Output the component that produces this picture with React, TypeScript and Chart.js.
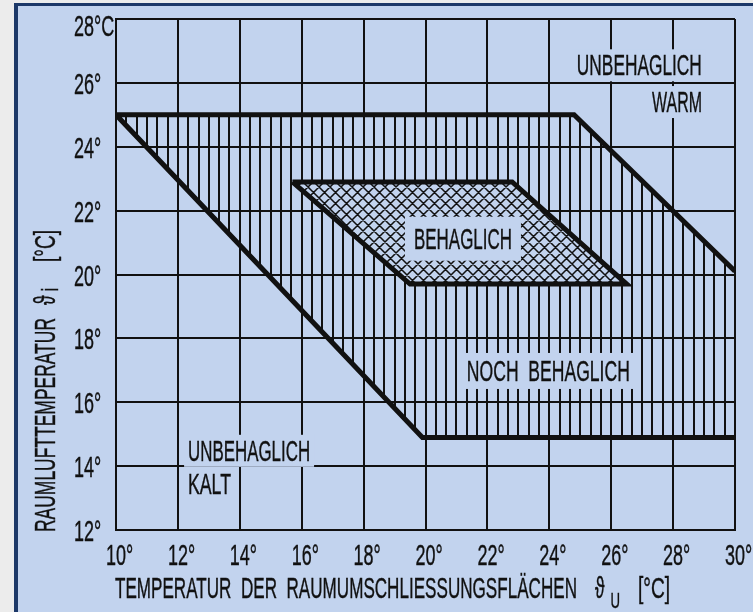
import React, { useEffect, useRef } from "react";
import { Chart, registerables } from "chart.js";
Chart.register(...registerables);

// ---------- data ----------
const X_TICKS = [10, 12, 14, 16, 18, 20, 22, 24, 26, 28, 30];
const X_TICK_LABELS = ["10°", "12°", "14°", "16°", "18°", "20°", "22°", "24°", "26°", "28°", "30°"];
const Y_TICKS = [12, 14, 16, 18, 20, 22, 24, 26, 28];
const Y_TICK_LABELS = ["12°", "14°", "16°", "18°", "20°", "22°", "24°", "26°", "28°C"];

// boundary of the "noch behaglich" zone (open polyline, drawn thick)
const OUTER_X = [30, 24.8, 10, 19.9, 30];
const OUTER_Y = [20.1, 25, 25, 14.9, 14.9];
// closed hatched area of the "noch behaglich" zone
const ZONE_X = [10, 24.8, 30, 30, 19.9];
const ZONE_Y = [25, 25, 20.1, 14.9, 14.9];
// "behaglich" zone (closed)
const INNER_X = [15.7, 22.8, 26.5, 19.5, 15.7];
const INNER_Y = [22.9, 22.9, 19.7, 19.7, 22.9];

const LABELS = ["UNBEHAGLICH", "WARM", "NOCH  BEHAGLICH", "BEHAGLICH", "UNBEHAGLICH", "KALT"];
const LABEL_X = [26.91, 28.13, 23.97, 21.21, 14.3, 13.02];
const LABEL_Y = [26.55, 25.4, 16.98, 21.12, 14.48, 13.43];

const X_TITLE = "TEMPERATUR  DER  RAUMUMSCHLIESSUNGSFLÄCHEN";
const Y_TITLE = "RAUMLUFTTEMPERATUR";

// ---------- styles ----------
const PAGE = "rgb(236,236,236)";
const NAVY = "rgb(28,56,104)";
const BG = "rgb(194,211,238)";
const INK = "#111";
const FAMILY = '"Liberation Sans", Arial, "DejaVu Sans", sans-serif';
const LABEL_STYLE = [
  { w: 125, px: 4, py: 5 },
  { w: 50, px: 4, py: 5 },
  { w: 163, px: 5, py: 7 },
  { w: 98, px: 9, py: 11 },
  { w: 122, px: 4, py: 5 },
  { w: 43, px: 4, py: 5 },
];

function drawText(ctx: CanvasRenderingContext2D, s: string, x: number, y: number, size: number, sx: number, align: CanvasTextAlign = "left") {
  ctx.save();
  ctx.font = `${size}px ${FAMILY}`;
  ctx.textAlign = align;
  ctx.textBaseline = "alphabetic";
  ctx.fillStyle = INK;
  ctx.strokeStyle = INK;
  ctx.lineWidth = 0.4;
  ctx.translate(x, y);
  ctx.scale(sx, 1);
  ctx.fillText(s, 0, 0);
  ctx.strokeText(s, 0, 0);
  ctx.restore();
}
function textW(ctx: CanvasRenderingContext2D, s: string, size: number) {
  ctx.save();
  ctx.font = `${size}px ${FAMILY}`;
  const w = ctx.measureText(s).width;
  ctx.restore();
  return w;
}

function polyPath(ctx: CanvasRenderingContext2D, xs: any, ys: any, X: number[], Y: number[]) {
  ctx.beginPath();
  X.forEach((x, i) => {
    const px = xs.getPixelForValue(x);
    const py = ys.getPixelForValue(Y[i]);
    if (i === 0) ctx.moveTo(px, py);
    else ctx.lineTo(px, py);
  });
  ctx.closePath();
}

const decorPlugin = {
  id: "decor",
  beforeDraw(chart: any) {
    const ctx = chart.ctx as CanvasRenderingContext2D;
    const W = chart.width, H = chart.height;
    ctx.save();
    ctx.fillStyle = PAGE;
    ctx.fillRect(0, 0, W, H);
    ctx.fillStyle = NAVY;
    ctx.fillRect(14, 3, W - 14, H - 3);
    ctx.fillStyle = BG;
    ctx.fillRect(18, 6, W - 18, H - 6);
    ctx.restore();
  },
  beforeDatasetsDraw(chart: any) {
    const ctx = chart.ctx as CanvasRenderingContext2D;
    const xs = chart.scales.x, ys = chart.scales.y;
    const ca = chart.chartArea;
    // vertical hatch in the "noch behaglich" zone
    ctx.save();
    polyPath(ctx, xs, ys, ZONE_X, ZONE_Y);
    ctx.clip();
    ctx.strokeStyle = INK;
    ctx.lineWidth = 2;
    ctx.beginPath();
    for (let k = 0; k <= 60; k++) {
      const px = Math.round(xs.getPixelForValue(10 + k / 3));
      ctx.moveTo(px, ca.top);
      ctx.lineTo(px, ca.bottom);
    }
    ctx.stroke();
    ctx.restore();
    // cross hatch in the "behaglich" zone
    ctx.save();
    polyPath(ctx, xs, ys, INNER_X, INNER_Y);
    ctx.clip();
    ctx.fillStyle = BG;
    ctx.fill();
    const x0 = xs.getPixelForValue(Math.min(...INNER_X)) - 20;
    const x1 = xs.getPixelForValue(Math.max(...INNER_X)) + 20;
    const y0 = ys.getPixelForValue(Math.max(...INNER_Y)) - 20;
    const y1 = ys.getPixelForValue(Math.min(...INNER_Y)) + 20;
    ctx.strokeStyle = INK;
    ctx.lineWidth = 1.5;
    ctx.beginPath();
    const step = 11;
    for (let c = Math.floor((x0 - y1) / step) * step; c <= x1 - y0; c += step) {
      ctx.moveTo(x0, x0 - c);
      ctx.lineTo(x1, x1 - c);
    }
    for (let c = Math.floor((x0 + y0) / step) * step; c <= x1 + y1; c += step) {
      ctx.moveTo(x0, c - x0);
      ctx.lineTo(x1, c - x1);
    }
    ctx.stroke();
    ctx.restore();
  },
  afterDatasetsDraw(chart: any) {
    const ctx = chart.ctx as CanvasRenderingContext2D;
    const xs = chart.scales.x, ys = chart.scales.y;
    const ca = chart.chartArea;
    const LS = 29;
    // region labels with cleared background
    LABELS.forEach((s, i) => {
      const st = LABEL_STYLE[i];
      const cx = xs.getPixelForValue(LABEL_X[i]);
      const cy = ys.getPixelForValue(LABEL_Y[i]);
      const sx = st.w / textW(ctx, s, LS);
      ctx.save();
      ctx.fillStyle = BG;
      ctx.fillRect(cx - st.w / 2 - st.px, cy - 11 - st.py, st.w + 2 * st.px, 22 + 2 * st.py);
      ctx.restore();
      drawText(ctx, s, cx - st.w / 2, cy + 10, LS, sx, "left");
    });

    // tick labels
    const TS = 30, TSX = 0.6;
    X_TICKS.forEach((v, i) => {
      const px = xs.getPixelForValue(v);
      const digits = X_TICK_LABELS[i].replace("°", "");
      const w = textW(ctx, digits, TS) * TSX;
      drawText(ctx, X_TICK_LABELS[i], px - w / 2, ca.bottom + 35, TS, TSX, "left");
    });
    Y_TICKS.forEach((v, i) => {
      const py = ys.getPixelForValue(v);
      const off = i === Y_TICKS.length - 1 ? 17 : 11;
      drawText(ctx, Y_TICK_LABELS[i], ca.left - 42, py + off, TS, TSX, "left");
    });

    // x axis title
    const tl = ca.left - 1;
    const tb = ca.bottom + 68;
    const sxX = 462 / textW(ctx, X_TITLE, LS);
    drawText(ctx, X_TITLE, tl, tb, LS, sxX);
    let cur = tl + 462 + 18;
    drawText(ctx, "ϑ", cur, tb, LS, 0.6);
    cur += textW(ctx, "ϑ", LS) * 0.6 + 6;
    drawText(ctx, "U", cur, tb + 10, 22, 0.6);
    cur += textW(ctx, "U", 22) * 0.6 + 18;
    drawText(ctx, "[°C]", cur, tb, LS, 0.66);

    // y axis title (rotated)
    ctx.save();
    ctx.translate(ca.left - 61, ca.bottom + 2);
    ctx.rotate(-Math.PI / 2);
    const sxY = 214 / textW(ctx, Y_TITLE, LS);
    drawText(ctx, Y_TITLE, 0, 0, LS, sxY);
    let c2 = 214 + 13;
    drawText(ctx, "ϑ", c2, 0, LS, 0.6);
    c2 += textW(ctx, "ϑ", LS) * 0.6 + 4;
    drawText(ctx, "i", c2, 3, 24, 0.7);
    c2 = 270;
    drawText(ctx, "[°C]", c2, 0, LS, 0.66);
    ctx.restore();
  },
};

export default function App() {
  const ref = useRef<HTMLCanvasElement>(null);
  useEffect(() => {
    document.body.style.margin = "0";
    const canvas = ref.current!;
    const gridCfg = { color: INK, lineWidth: 2, drawTicks: false };
    const chart = new Chart(canvas, {
      type: "scatter",
      data: {
        datasets: [
          {
            label: "noch behaglich",
            data: OUTER_X.map((x, i) => ({ x, y: OUTER_Y[i] })),
            showLine: true,
            borderColor: INK,
            borderWidth: 5,
            pointRadius: 0,
            fill: false,
            borderJoinStyle: "miter",
          } as any,
          {
            label: "behaglich",
            data: INNER_X.map((x, i) => ({ x, y: INNER_Y[i] })),
            showLine: true,
            borderColor: INK,
            borderWidth: 5,
            pointRadius: 0,
            fill: false,
            borderJoinStyle: "miter",
          } as any,
        ],
      },
      options: {
        animation: false,
        responsive: false,
        devicePixelRatio: 1,
        layout: { padding: { left: 116, right: 18, top: 19, bottom: 82 } },
        plugins: { legend: { display: false }, tooltip: { enabled: false } },
        scales: {
          x: {
            type: "linear",
            min: 10,
            max: 30,
            ticks: { stepSize: 2, display: false },
            grid: gridCfg,
            border: { display: true, color: INK, width: 2 },
          },
          y: {
            type: "linear",
            min: 12,
            max: 28,
            ticks: { stepSize: 2, display: false },
            grid: gridCfg,
            border: { display: true, color: INK, width: 2 },
          },
        },
      },
      plugins: [decorPlugin],
    });
    return () => chart.destroy();
  }, []);
  return (
    <div style={{ width: 753, height: 612 }}>
      <canvas ref={ref} width={753} height={612} style={{ display: "block", width: 753, height: 612 }} />
    </div>
  );
}
